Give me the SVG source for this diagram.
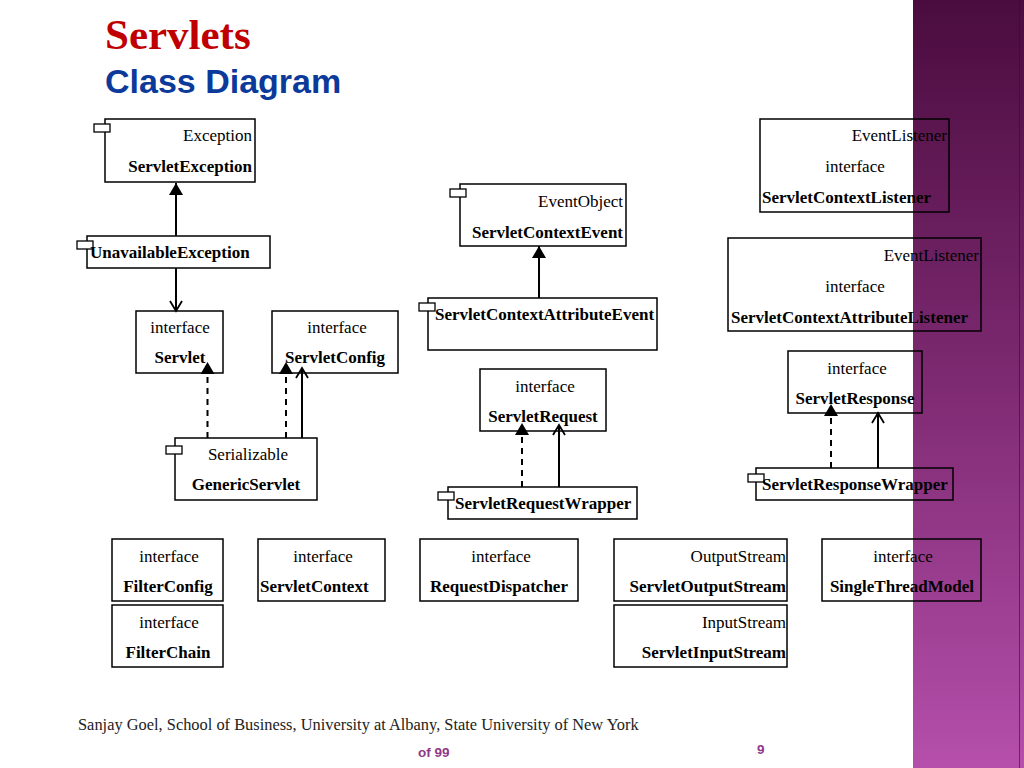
<svg xmlns="http://www.w3.org/2000/svg" width="1024" height="768" viewBox="0 0 1024 768">
<defs>
<linearGradient id="side" x1="0" y1="0" x2="0" y2="1">
<stop offset="0" stop-color="#4a0c3e"/>
<stop offset="0.5" stop-color="#7e2a72"/>
<stop offset="1" stop-color="#b54fab"/>
</linearGradient>
<marker id="tri" markerUnits="userSpaceOnUse" markerWidth="16" markerHeight="14" refX="13" refY="7" orient="auto">
<path d="M1,0 L13,7 L1,14 Z" fill="#000"/>
</marker>
<marker id="open" markerUnits="userSpaceOnUse" markerWidth="14" markerHeight="14" refX="11" refY="7" orient="auto">
<path d="M1,1 L11,7 L1,13" fill="none" stroke="#000" stroke-width="1.8"/>
</marker>
</defs>
<style>
.box{fill:none;stroke:#000;stroke-width:1.5}
.ico{fill:#fff;stroke:#000;stroke-width:1.3}
.t{font-family:"Liberation Serif","Times New Roman",serif;font-size:17px;fill:#000}
.b{font-weight:bold}
.m{text-anchor:middle}
.e{text-anchor:end}
.c{stroke:#000;stroke-width:2;fill:none}
.d{stroke-dasharray:6,5}
</style>
<rect x="0" y="0" width="1024" height="768" fill="#fff"/>
<rect x="913" y="0" width="111" height="768" fill="url(#side)"/>
<line x1="1019.5" y1="0" x2="1019.5" y2="768" stroke="#3a0a30" stroke-width="1" opacity="0.6"/>

<text x="105" y="49" font-family="Liberation Serif,serif" font-weight="bold" font-size="43" fill="#c00000">Servlets</text>
<text x="105" y="93" font-family="Liberation Sans,Arial,sans-serif" font-weight="bold" font-size="34" fill="#0b3a9a">Class Diagram</text>

<g id="connectors">
<line class="c" x1="176" y1="236" x2="176" y2="183" marker-end="url(#tri)"/>
<line class="c" x1="176" y1="268" x2="176" y2="311" marker-end="url(#open)"/>
<line class="c d" x1="207.5" y1="438" x2="207.5" y2="362" marker-end="url(#tri)"/>
<line class="c d" x1="286" y1="438" x2="286" y2="362" marker-end="url(#tri)"/>
<line class="c" x1="302" y1="438" x2="302" y2="368" marker-end="url(#open)"/>
<line class="c" x1="539" y1="298" x2="539" y2="246" marker-end="url(#tri)"/>
<line class="c d" x1="522" y1="487" x2="522" y2="423" marker-end="url(#tri)"/>
<line class="c" x1="559" y1="487" x2="559" y2="425" marker-end="url(#open)"/>
<line class="c d" x1="831" y1="468" x2="831" y2="404" marker-end="url(#tri)"/>
<line class="c" x1="878" y1="468" x2="878" y2="413" marker-end="url(#open)"/>
</g>

<g id="ServletException">
<rect class="box" x="105" y="119" width="150" height="63"/>
<rect class="ico" x="94" y="124" width="16" height="8"/>
<text class="t e" x="252" y="141">Exception</text>
<text class="t b e" x="252" y="172">ServletException</text>
</g>
<g id="UnavailableException">
<rect class="box" x="87" y="236" width="183" height="32"/>
<rect class="ico" x="77" y="241" width="16" height="8"/>
<text class="t b" x="90" y="258">UnavailableException</text>
</g>
<g id="Servlet">
<rect class="box" x="136" y="311" width="87" height="62"/>
<text class="t m" x="180" y="333">interface</text>
<text class="t b m" x="180" y="363">Servlet</text>
</g>
<g id="ServletConfig">
<rect class="box" x="272" y="311" width="126" height="62"/>
<text class="t m" x="337" y="333">interface</text>
<text class="t b m" x="335" y="363">ServletConfig</text>
</g>
<g id="GenericServlet">
<rect class="box" x="175" y="438" width="142" height="62"/>
<rect class="ico" x="166" y="446" width="16" height="8"/>
<text class="t m" x="248" y="460">Serializable</text>
<text class="t b m" x="246" y="490">GenericServlet</text>
</g>
<g id="ServletContextEvent">
<rect class="box" x="460" y="184" width="166" height="62"/>
<rect class="ico" x="450" y="189" width="16" height="8"/>
<text class="t e" x="623" y="207">EventObject</text>
<text class="t b e" x="623" y="238">ServletContextEvent</text>
</g>
<g id="ServletContextAttributeEvent">
<rect class="box" x="428" y="298" width="229" height="52"/>
<rect class="ico" x="419" y="303" width="16" height="8"/>
<text class="t b" x="435" y="320">ServletContextAttributeEvent</text>
</g>
<g id="ServletContextListener">
<rect class="box" x="760" y="119" width="189" height="93"/>
<text class="t e" x="947" y="141">EventListener</text>
<text class="t m" x="855" y="172">interface</text>
<text class="t b" x="762" y="203">ServletContextListener</text>
</g>
<g id="ServletContextAttributeListener">
<rect class="box" x="728" y="238" width="253" height="93"/>
<text class="t e" x="979" y="261">EventListener</text>
<text class="t m" x="855" y="292">interface</text>
<text class="t b" x="731" y="323">ServletContextAttributeListener</text>
</g>
<g id="ServletRequest">
<rect class="box" x="480" y="369" width="126" height="62"/>
<text class="t m" x="545" y="392">interface</text>
<text class="t b m" x="543" y="422">ServletRequest</text>
</g>
<g id="ServletRequestWrapper">
<rect class="box" x="448" y="487" width="189" height="32"/>
<rect class="ico" x="438" y="492" width="16" height="8"/>
<text class="t b" x="455" y="509">ServletRequestWrapper</text>
</g>
<g id="ServletResponse">
<rect class="box" x="788" y="351" width="134" height="62"/>
<text class="t m" x="857" y="374">interface</text>
<text class="t b m" x="855" y="404">ServletResponse</text>
</g>
<g id="ServletResponseWrapper">
<rect class="box" x="756" y="468" width="197" height="32"/>
<rect class="ico" x="748" y="474" width="16" height="8"/>
<text class="t b" x="762" y="490">ServletResponseWrapper</text>
</g>
<g id="FilterConfig">
<rect class="box" x="112" y="539" width="111" height="62"/>
<text class="t m" x="169" y="562">interface</text>
<text class="t b m" x="168" y="592">FilterConfig</text>
</g>
<g id="FilterChain">
<rect class="box" x="112" y="605" width="111" height="62"/>
<text class="t m" x="169" y="628">interface</text>
<text class="t b m" x="168" y="658">FilterChain</text>
</g>
<g id="ServletContext">
<rect class="box" x="258" y="539" width="127" height="62"/>
<text class="t m" x="323" y="562">interface</text>
<text class="t b" x="260" y="592">ServletContext</text>
</g>
<g id="RequestDispatcher">
<rect class="box" x="420" y="539" width="158" height="62"/>
<text class="t m" x="501" y="562">interface</text>
<text class="t b m" x="499" y="592">RequestDispatcher</text>
</g>
<g id="ServletOutputStream">
<rect class="box" x="614" y="539" width="173" height="62"/>
<text class="t e" x="786" y="562">OutputStream</text>
<text class="t b e" x="786" y="592">ServletOutputStream</text>
</g>
<g id="ServletInputStream">
<rect class="box" x="614" y="605" width="173" height="62"/>
<text class="t e" x="786" y="628">InputStream</text>
<text class="t b e" x="786" y="658">ServletInputStream</text>
</g>
<g id="SingleThreadModel">
<rect class="box" x="822" y="539" width="159" height="62"/>
<text class="t m" x="903" y="562">interface</text>
<text class="t b m" x="902" y="592">SingleThreadModel</text>
</g>

<text x="78" y="730" font-family="Liberation Serif,serif" font-size="16.4" fill="#222">Sanjay Goel, School of Business, University at Albany, State University of New York</text>
<text x="418" y="757" font-family="Liberation Sans,Arial,sans-serif" font-weight="bold" font-size="13.5" fill="#8e3a8a">of 99</text>
<text x="757" y="754" font-family="Liberation Sans,Arial,sans-serif" font-weight="bold" font-size="13.5" fill="#8e3a8a">9</text>
</svg>
